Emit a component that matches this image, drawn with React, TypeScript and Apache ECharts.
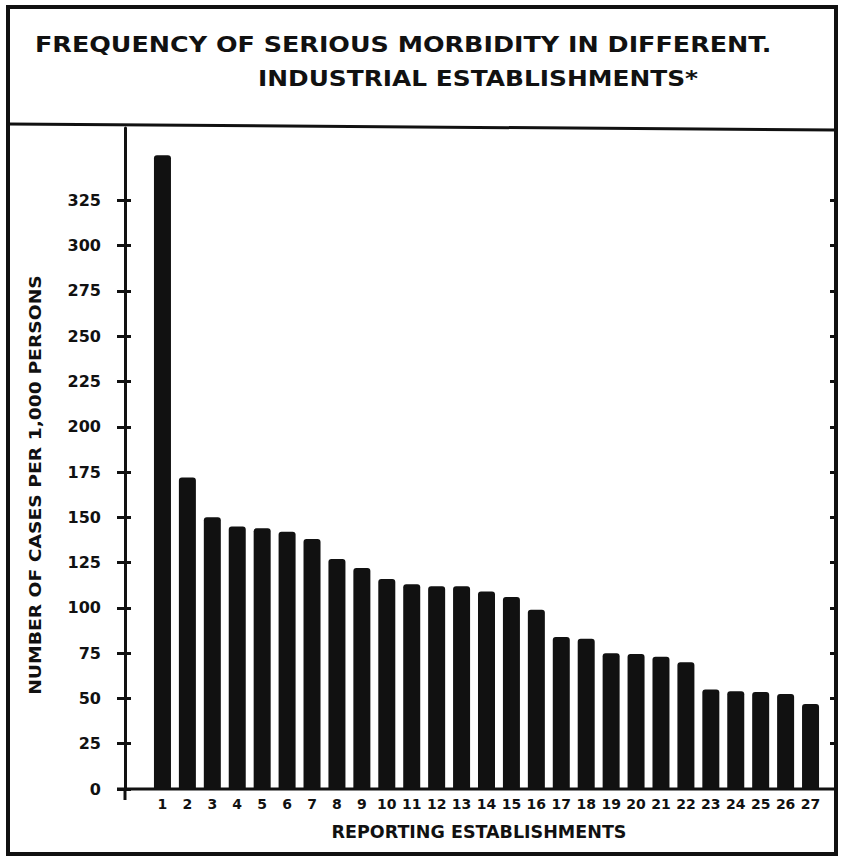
import React, { useEffect, useRef } from "react";
import * as echarts from "echarts";

const categories = [
  "1", "2", "3", "4", "5", "6", "7", "8", "9", "10", "11", "12", "13", "14",
  "15", "16", "17", "18", "19", "20", "21", "22", "23", "24", "25", "26", "27",
];
const casesPer1000 = [
  350, 172, 150, 145, 144, 142, 138, 127, 122, 116, 113, 112, 112, 109,
  106, 99, 84, 83, 75, 74.5, 73, 70, 55, 54, 53.5, 52.5, 47,
];
const yTickValues = [0, 25, 50, 75, 100, 125, 150, 175, 200, 225, 250, 275, 300, 325];

const titleLine1 = "FREQUENCY OF SERIOUS MORBIDITY IN DIFFERENT.";
const titleLine2 = "INDUSTRIAL ESTABLISHMENTS*";
const yAxisTitle = "NUMBER OF CASES PER 1,000 PERSONS";
const xAxisTitle = "REPORTING ESTABLISHMENTS";

const INK = "#111";
const FONT = '"DejaVu Sans", "Liberation Sans", sans-serif';

export default function App() {
  const ref = useRef<HTMLDivElement>(null);

  useEffect(() => {
    if (!ref.current) return;
    const chart = echarts.init(ref.current, undefined, { renderer: "svg" });

    const yCommon = {
      type: "value" as const,
      min: 0,
      max: 365,
      interval: 25,
      splitLine: { show: false },
    };

    chart.setOption({
      animation: false,
      backgroundColor: "#fff",
      grid: { left: 150, right: 19, top: 128, bottom: 72, containLabel: false },
      xAxis: {
        type: "category",
        data: categories,
        axisLine: { show: false },
        axisTick: { show: false },
        axisLabel: {
          interval: 0,
          margin: 8,
          color: INK,
          fontFamily: FONT,
          fontWeight: "bold",
          fontSize: 14,
        },
        name: xAxisTitle,
        nameLocation: "middle",
        nameGap: 34,
        nameTextStyle: {
          color: INK,
          fontFamily: FONT,
          fontWeight: "bold",
          fontSize: 17.5,
          padding: [0, 15, 0, 0],
        },
      },
      yAxis: [
        {
          ...yCommon,
          position: "left",
          offset: 25,
          axisLine: { show: true, lineStyle: { color: INK, width: 3 } },
          axisTick: {
            show: true,
            inside: false,
            length: 8,
            lineStyle: { color: INK, width: 3 },
            customValues: yTickValues,
          },
          axisLabel: {
            margin: 24,
            color: INK,
            fontFamily: FONT,
            fontWeight: "bold",
            fontSize: 16,
            customValues: yTickValues,
            formatter: (v: number) => (v > 325 ? "" : String(v)),
          },
        },
        {
          ...yCommon,
          position: "left",
          offset: 25,
          axisLine: { show: false },
          axisTick: {
            show: true,
            inside: true,
            length: 6,
            lineStyle: { color: INK, width: 3 },
            customValues: yTickValues,
          },
          axisLabel: { show: false },
        },
        {
          ...yCommon,
          position: "right",
          offset: 12,
          axisLine: { show: false },
          axisTick: {
            show: true,
            inside: true,
            length: 5,
            lineStyle: { color: INK, width: 3 },
            customValues: yTickValues.slice(1),
          },
          axisLabel: { show: false },
        },
      ],
      series: [
        {
          type: "bar",
          data: casesPer1000,
          yAxisIndex: 0,
          barWidth: 17,
          itemStyle: { color: INK, borderRadius: [3, 3, 0, 0] },
        },
      ],
      graphic: [
        {
          type: "rect",
          shape: { x: 8, y: 7, width: 828, height: 847 },
          style: { fill: "none", stroke: INK, lineWidth: 4 },
          silent: true,
        },
        {
          type: "line",
          shape: { x1: 8, y1: 124, x2: 836, y2: 130 },
          style: { stroke: INK, lineWidth: 3 },
          silent: true,
        },
        {
          type: "line",
          shape: { x1: 117, y1: 789, x2: 834, y2: 789 },
          style: { stroke: INK, lineWidth: 3 },
          silent: true,
        },
        {
          type: "line",
          shape: { x1: 125, y1: 789, x2: 125, y2: 800 },
          style: { stroke: INK, lineWidth: 3 },
          silent: true,
        },
        {
          type: "text",
          x: 35,
          y: 44,
          scaleX: 1.21,
          style: {
            text: titleLine1,
            fill: INK,
            fontFamily: FONT,
            fontWeight: "bold",
            fontSize: 21,
            align: "left",
            verticalAlign: "middle",
          },
        },
        {
          type: "text",
          x: 258,
          y: 79,
          scaleX: 1.13,
          style: {
            text: titleLine2,
            fill: INK,
            fontFamily: FONT,
            fontWeight: "bold",
            fontSize: 22,
            align: "left",
            verticalAlign: "middle",
          },
        },
        {
          type: "text",
          x: 35,
          y: 485,
          rotation: Math.PI / 2,
          scaleX: 1.17,
          style: {
            text: yAxisTitle,
            fill: INK,
            fontFamily: FONT,
            fontWeight: "bold",
            fontSize: 16,
            align: "center",
            verticalAlign: "middle",
          },
        },
      ],
    });

    return () => chart.dispose();
  }, []);

  return (
    <div
      ref={ref}
      style={{ position: "fixed", left: 0, top: 0, width: 842, height: 861, background: "#fff" }}
    />
  );
}
